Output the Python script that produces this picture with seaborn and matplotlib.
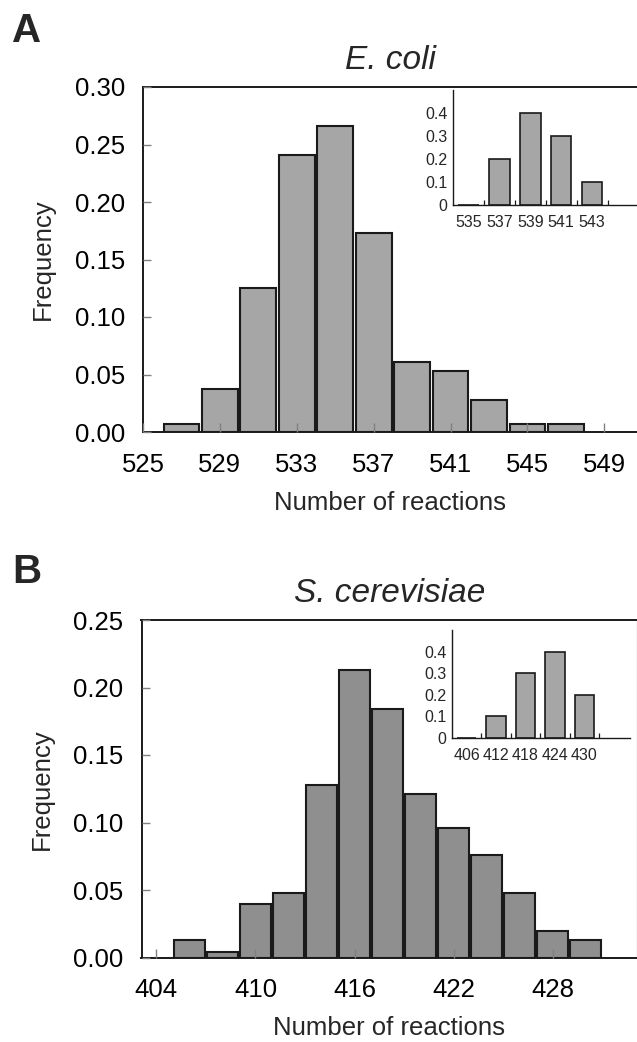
import numpy as np
import matplotlib
matplotlib.use("Agg")
import matplotlib.pyplot as plt
import seaborn as sns

# ---------------- data ----------------
ecoli_reactions = [527, 529, 531, 533, 535, 537, 539, 541, 543, 545, 547]
ecoli_freq = [0.007, 0.037, 0.125, 0.241, 0.266, 0.173, 0.061, 0.053, 0.028, 0.007, 0.007]
ecoli_xticks = [525, 529, 533, 537, 541, 545, 549]
ecoli_yticks = [0.00, 0.05, 0.10, 0.15, 0.20, 0.25, 0.30]
ecoli_inset_labels = ["535", "537", "539", "541", "543"]
ecoli_inset_freq = [0.0, 0.2, 0.4, 0.3, 0.1]

yeast_reactions = [406, 408, 410, 412, 414, 416, 418, 420, 422, 424, 426, 428, 430]
yeast_freq = [0.013, 0.004, 0.040, 0.048, 0.128, 0.213, 0.184, 0.121, 0.096, 0.076, 0.048, 0.020, 0.013]
yeast_xticks = [404, 410, 416, 422, 428]
yeast_yticks = [0.00, 0.05, 0.10, 0.15, 0.20, 0.25]
yeast_inset_labels = ["406", "412", "418", "424", "430"]
yeast_inset_freq = [0.0, 0.1, 0.3, 0.4, 0.2]

inset_yticks = [0, 0.1, 0.2, 0.3, 0.4]
inset_yticklabels = ["0", "0.1", "0.2", "0.3", "0.4"]

# ---------------- style ----------------
sns.set_style("white")
plt.rcParams["font.family"] = ["Liberation Sans", "DejaVu Sans"]

W, H = 637, 1042
fig = plt.figure(figsize=(W / 100, H / 100), dpi=100)


def rect(l, t, r, b):
    return [l / W, 1 - b / H, (r - l) / W, (b - t) / H]


axA = fig.add_axes(rect(143, 87, 637, 432))
insA = fig.add_axes(rect(453, 90, 637, 205))
axB = fig.add_axes(rect(141.5, 620, 637, 957.5))
insB = fig.add_axes(rect(452, 630, 630, 738))

EDGE = "#1a1a1a"
LIGHT = "#a6a6a6"
DARK = "#8f8f8f"

sns.barplot(x=ecoli_reactions, y=ecoli_freq, native_scale=True, width=0.93,
            color=LIGHT, saturation=1, edgecolor=EDGE, linewidth=1.5, ax=axA)
sns.barplot(x=yeast_reactions, y=yeast_freq, native_scale=True, width=0.93,
            color=DARK, saturation=1, edgecolor=EDGE, linewidth=1.5, ax=axB)
sns.barplot(x=ecoli_inset_labels, y=ecoli_inset_freq, order=ecoli_inset_labels, width=0.66,
            color=LIGHT, saturation=1, edgecolor=EDGE, linewidth=1.2, ax=insA)
sns.barplot(x=yeast_inset_labels, y=yeast_inset_freq, order=yeast_inset_labels, width=0.66,
            color=LIGHT, saturation=1, edgecolor=EDGE, linewidth=1.2, ax=insB)


def style_main(ax, xlim, xticks, yticks, title, right_spine):
    ax.set_xlim(xlim)
    ax.set_ylim(yticks[0], yticks[-1])
    ax.set_xticks(xticks)
    ax.set_xticklabels([str(v) for v in xticks])
    ax.set_yticks(yticks)
    ax.set_yticklabels([f"{v:.2f}" for v in yticks])
    ax.tick_params(axis="both", direction="in", labelsize=18.5, color="#808080",
                   labelcolor="black", width=1)
    ax.tick_params(axis="x", length=6.5, pad=15, bottom=True)
    ax.tick_params(axis="y", length=5.5, pad=13, left=True)
    for s in ["left", "bottom", "top"]:
        ax.spines[s].set_color(EDGE)
        ax.spines[s].set_linewidth(1.4)
    if right_spine:
        ax.spines["right"].set_color("#c8c8c8")
        ax.spines["right"].set_linewidth(1.0)
    else:
        ax.spines["right"].set_visible(False)
    ax.set_xlabel("Number of reactions", fontsize=18.5, labelpad=10)
    ax.set_ylabel("Frequency", fontsize=18.5, labelpad=14)
    ax.set_title(title, fontsize=24, style="italic", pad=13)
    ax.set_axisbelow(False)


def style_inset(ax, n, right):
    ax.set_xlim(-0.5, right)
    ax.set_ylim(0, 0.5)
    ax.set_yticks(inset_yticks)
    ax.set_yticklabels(inset_yticklabels)
    ax.tick_params(axis="y", length=0, pad=4, labelsize=11.5, left=True)
    ax.tick_params(axis="x", which="major", length=0, pad=7, labelsize=11.5)
    ax.set_xticks(np.arange(0.5, n), minor=True)
    ax.tick_params(axis="x", which="minor", direction="in", length=3.5, width=0.9,
                   color=EDGE, bottom=True)
    for s in ["top", "right"]:
        ax.spines[s].set_visible(False)
    for s in ["left", "bottom"]:
        ax.spines[s].set_color(EDGE)
        ax.spines[s].set_linewidth(1.0)
    ax.set_xlabel("")
    ax.set_ylabel("")
    ax.patch.set_alpha(0)
    ax.set_axisbelow(False)


style_main(axA, (525, 550.7), ecoli_xticks, ecoli_yticks, "E. coli", False)
style_main(axB, (403.1, 433.1), yeast_xticks, yeast_yticks, "S. cerevisiae", True)
style_inset(insA, len(ecoli_inset_labels), 5.45)
style_inset(insB, len(yeast_inset_labels), 5.55)

fig.text(12 / W, 1 - 42 / H, "A", fontsize=29, weight="bold", ha="left", va="baseline")
fig.text(12 / W, 1 - 583 / H, "B", fontsize=29, weight="bold", ha="left", va="baseline")

fig.savefig("out.png", dpi=100)
